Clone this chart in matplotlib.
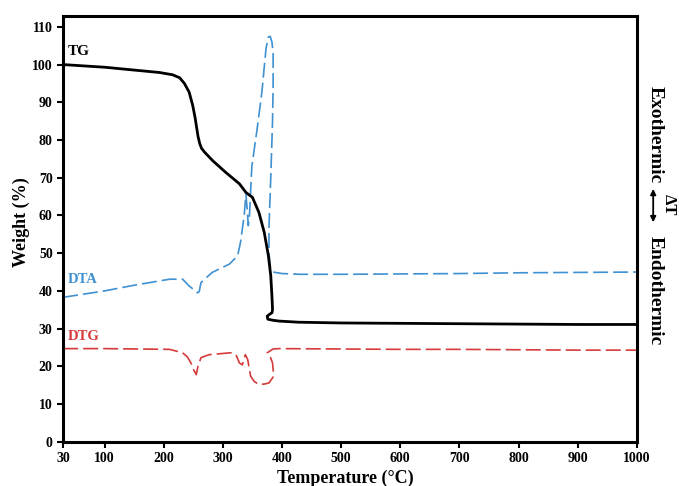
import matplotlib.pyplot as plt
from matplotlib.patches import FancyArrowPatch

plt.rcParams["font.family"] = ["Liberation Serif", "DejaVu Serif"]
plt.rcParams["font.weight"] = "bold"

# thermogram (TG), weight %
tg_temp = [30, 100, 193, 215, 227, 235, 243, 249, 253, 256, 258, 261, 264, 269,
           283, 305, 328, 339, 350, 361, 370, 377, 381, 383, 384, 383, 379, 375,
           376, 385, 395, 428, 500, 600, 700, 800, 900, 1000]
tg_val = [100, 99.3, 97.9, 97.3, 96.5, 95, 92.7, 89.2, 86, 83, 81, 79, 77.8,
          76.8, 74.5, 71.4, 68.4, 66.1, 64.8, 60.8, 55.5, 49.3, 44, 38.6, 35,
          34.2, 33.8, 33.3, 32.5, 32.2, 32, 31.7, 31.5, 31.4, 31.3, 31.2, 31.1,
          31.1]

# differential thermal analysis (DTA)
dta_temp = [30, 100, 150, 210, 232, 243, 252, 257, 260, 263, 282, 311, 325, 330,
            336, 339, 341, 343, 345, 349, 358, 366, 373, 377, 380, 383, 385, 385,
            384, 381, 378, 378, 380, 385, 400, 430, 500, 600, 700, 800, 900, 1000]
dta_val = [38.3, 40.0, 41.5, 43.1, 43.1, 41.3, 40.2, 39.5, 39.8, 42.2, 44.9, 47.1,
           49.3, 53, 60, 65.5, 62, 57.3, 60, 73, 83, 92.7, 104.3, 107.3, 107.5,
           106, 103, 95, 85, 70, 57, 50, 46.5, 45, 44.6, 44.4, 44.4, 44.5, 44.6,
           44.8, 44.9, 45.0]

# derivative thermogram (DTG)
dtg_temp = [30, 100, 210, 232, 240, 246, 251, 255, 258, 263, 277, 314, 322, 328,
            333, 338, 342, 347, 353, 361, 370, 378, 386, 384, 380, 375, 385, 395,
            500, 600, 700, 800, 900, 1000]
dtg_val = [24.7, 24.7, 24.5, 23.6, 22.5, 20.9, 19, 17.8, 20, 22.3, 23.1, 23.6,
           23.1, 20.9, 20.4, 23.1, 21.8, 17.4, 16, 15.2, 15.3, 15.6, 17.4, 20.9,
           22.6, 23.6, 24.6, 24.7, 24.6, 24.5, 24.5, 24.4, 24.3, 24.3]

x_ticks = [30, 100, 200, 300, 400, 500, 600, 700, 800, 900, 1000]
y_ticks = list(range(0, 111, 10))

blue = "#3f91d2"
red = "#d63a3a"

fig = plt.figure(figsize=(6.79, 4.86), dpi=100)
ax = fig.add_axes([0.093, 0.091, 0.845, 0.877])

ax.plot(dta_temp, dta_val, color=blue, lw=1.2, dashes=(9, 3))
ax.plot(dtg_temp, dtg_val, color=red, lw=1.2, dashes=(9, 3))
ax.plot(tg_temp, tg_val, color="black", lw=2.0, solid_joinstyle="round")

ax.set_xlim(30, 1000)
ax.set_ylim(0, 113)
ax.set_xticks(x_ticks)
ax.set_yticks(y_ticks)
ax.tick_params(labelsize=10, width=1.5, length=4, direction="out")
for lbl in ax.get_xticklabels() + ax.get_yticklabels():
    lbl.set_fontweight("bold")
for sp in ax.spines.values():
    sp.set_linewidth(2.2)

ax.text(38, 103.5, "TG", color="black", fontsize=11, fontweight="bold",
        va="center")
ax.text(38, 43, "DTA", color=blue, fontsize=10.5, fontweight="bold",
        va="center")
ax.text(38, 28, "DTG", color=red, fontsize=10.5, fontweight="bold",
        va="center")

fig.text(0.508, 0.016, "Temperature (\u00b0C)", ha="center", va="center",
         fontsize=13, fontweight="bold")
fig.text(0.032, 0.543, "Weight (%)", ha="center", va="center", rotation=90,
         fontsize=13, fontweight="bold")

# exo / endo marker on the right
fig.text(0.965, 0.722, "Exothermic", ha="center", va="center", rotation=-90,
         fontsize=14, fontweight="bold")
fig.text(0.965, 0.403, "Endothermic", ha="center", va="center", rotation=-90,
         fontsize=14, fontweight="bold")
fig.text(0.985, 0.578, "\u0394T", ha="center", va="center", rotation=-90,
         fontsize=12)
fig.add_artist(FancyArrowPatch(
    (0.962, 0.617), (0.962, 0.537), transform=fig.transFigure,
    arrowstyle="<|-|>", mutation_scale=8, lw=1.3, color="black"))

fig.savefig("out.png", dpi=100)
